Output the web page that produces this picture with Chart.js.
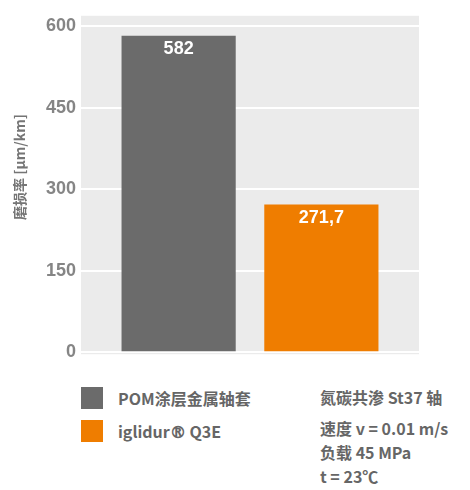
<!DOCTYPE html>
<html>
<head>
<meta charset="utf-8">
<script src="https://cdn.jsdelivr.net/npm/chart.js@4.4.1/dist/chart.umd.min.js"></script>
<style>
  @font-face { font-family: "RegMark"; src: local("DejaVu Sans"); unicode-range: U+00AE; }
  html, body { margin: 0; padding: 0; background: #fff; }
  #wrap { position: relative; width: 470px; height: 490px; }
  #chart-host { position: absolute; left: 0; top: 0; width: 470px; height: 370px; }
  .legend, .note { position: absolute; font-family: "RegMark", "Noto Sans CJK SC", "Noto Sans", sans-serif;
            font-size: 16px; font-weight: bold; color: #666666; }
  .legend .row { display: flex; align-items: center; height: 33px; }
  .legend .sw { width: 22px; height: 22px; margin-right: 15px; }
  .note { left: 320px; top: 385px; }
  .note div { height: 24px; line-height: 24px; white-space: nowrap; }
</style>
</head>
<body>
<div id="wrap">
  <div id="chart-host"><canvas id="wear-chart" width="470" height="370"></canvas></div>
  <div class="legend" id="legend" style="left:81px; top:381px;"></div>
  <div class="note" id="note"></div>
</div>
<script>
// 数据
const categories = ['POM涂层金属轴套', 'iglidur® Q3E'];
const wearRate   = [582, 271.7];
const barColors  = ['#6b6b6b', '#ef7d00'];
const yTicks     = [0, 150, 300, 450, 600];
const yTitle     = '磨损率 [µm/km]';
const testNotes  = ['氮碳共渗 St37 轴', '速度 v = 0.01 m/s', '负载 45 MPa', 't = 23℃'];

// 绘图区背景
const panelBg = {
  id: 'panelBg',
  beforeDraw(chart) {
    const { ctx, chartArea: a } = chart;
    ctx.save();
    ctx.fillStyle = '#ebebeb';
    ctx.fillRect(a.left, a.top, a.right - a.left, a.bottom - a.top);
    ctx.restore();
  },
};

// 柱内数值 + 纵轴标题
const barText = {
  id: 'barText',
  afterDatasetsDraw(chart) {
    const { ctx } = chart;
    const meta = chart.getDatasetMeta(0);
    ctx.save();
    ctx.fillStyle = '#ffffff';
    ctx.font = 'bold 18px "Liberation Sans", Arial, sans-serif';
    ctx.textAlign = 'center';
    ctx.textBaseline = 'middle';
    meta.data.forEach((bar, i) => {
      ctx.fillText(String(wearRate[i]).replace('.', ','), bar.x, bar.y + 13);
    });
    ctx.translate(20, 167);
    ctx.rotate(-Math.PI / 2);
    ctx.fillStyle = '#757575';
    ctx.font = 'bold 14px "Noto Sans CJK SC", sans-serif';
    ctx.fillText(yTitle, 0, 0);
    ctx.restore();
  },
};

new Chart(document.getElementById('wear-chart'), {
  type: 'bar',
  data: {
    datasets: [{
      data: wearRate.map((v, i) => ({ x: i, y: v })),
      backgroundColor: barColors,
      borderWidth: 0,
      categoryPercentage: 1,
      barPercentage: 0.8,
    }],
  },
  options: {
    responsive: false,
    animation: false,
    layout: { padding: { left: 0, top: 4, right: 51, bottom: 3 } },
    plugins: { legend: { display: false }, tooltip: { enabled: false } },
    scales: {
      x: {
        type: 'linear',
        display: false,
        offset: false,
        grid: { offset: false },
        min: -0.684,
        max: 1.684,
        // 只在两个类别处取刻度，柱宽按类别间距计算
        afterBuildTicks(scale) { scale.ticks = categories.map((c, i) => ({ value: i })); },
      },
      y: {
        min: -3.43,
        max: 618.9,
        afterBuildTicks(scale) { scale.ticks = yTicks.map(v => ({ value: v })); },
        afterFit(scale) { scale.width = 81; },
        border: { display: false },
        grid: { color: '#ffffff', lineWidth: 2, drawTicks: false },
        ticks: {
          padding: 5,
          color: '#858585',
          font: { family: '"Liberation Sans", Arial, sans-serif', size: 18, weight: 'bold' },
        },
      },
    },
  },
  plugins: [panelBg, barText],
});

// 图例和试验条件
document.getElementById('legend').innerHTML = categories.map((c, i) =>
  `<div class="row"><div class="sw" style="background:${barColors[i]}"></div><span>${c}</span></div>`
).join('');
document.getElementById('note').innerHTML = testNotes.map((t, i) =>
  `<div style="margin-top:${i === 1 ? 7 : 0}px">${t}</div>`
).join('');
</script>
</body>
</html>
